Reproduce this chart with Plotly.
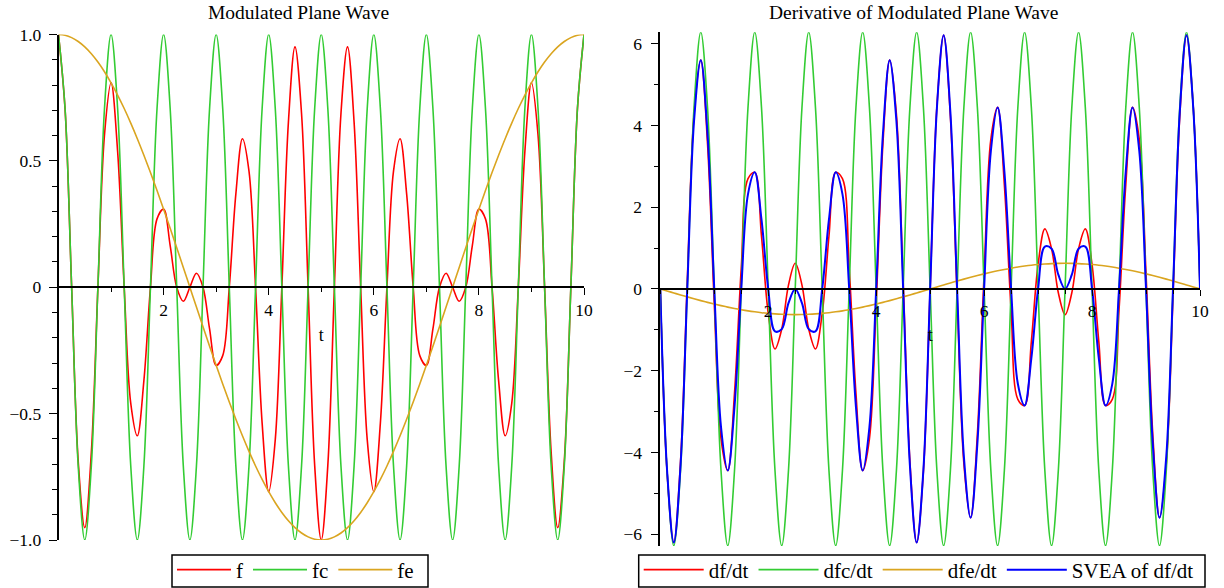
import plotly.graph_objects as go

# ---------------- data (sampled every 1/8 of t) ----------------
t = [0.0, 0.125, 0.25, 0.375, 0.5, 0.625, 0.75, 0.875,
     1.0, 1.125, 1.25, 1.375, 1.5, 1.625, 1.75, 1.875,
     2.0, 2.125, 2.25, 2.375, 2.5, 2.625, 2.75, 2.875,
     3.0, 3.125, 3.25, 3.375, 3.5, 3.625, 3.75, 3.875,
     4.0, 4.125, 4.25, 4.375, 4.5, 4.625, 4.75, 4.875,
     5.0, 5.125, 5.25, 5.375, 5.5, 5.625, 5.75, 5.875,
     6.0, 6.125, 6.25, 6.375, 6.5, 6.625, 6.75, 6.875,
     7.0, 7.125, 7.25, 7.375, 7.5, 7.625, 7.75, 7.875,
     8.0, 8.125, 8.25, 8.375, 8.5, 8.625, 8.75, 8.875,
     9.0, 9.125, 9.25, 9.375, 9.5, 9.625, 9.75, 9.875,
     10.0]

f = [1.0, 0.7049, 0.0, -0.6876, -0.9511, -0.6533, 0.0, 0.6029,
     0.8090, 0.5377, 0.0, -0.4592, -0.5878, -0.3695, 0.0, 0.2706,
     0.3090, 0.1651, 0.0, -0.0555, 0.0, 0.0555, 0.0, -0.1651,
     -0.3090, -0.2706, 0.0, 0.3695, 0.5878, 0.4592, 0.0, -0.5377,
     -0.8090, -0.6029, 0.0, 0.6533, 0.9511, 0.6876, 0.0, -0.7049,
     -1.0, -0.7049, 0.0, 0.6876, 0.9511, 0.6533, 0.0, -0.6029,
     -0.8090, -0.5377, 0.0, 0.4592, 0.5878, 0.3695, 0.0, -0.2706,
     -0.3090, -0.1651, 0.0, 0.0555, 0.0, -0.0555, 0.0, 0.1651,
     0.3090, 0.2706, 0.0, -0.3695, -0.5878, -0.4592, 0.0, 0.5377,
     0.8090, 0.6029, 0.0, -0.6533, -0.9511, -0.6876, 0.0, 0.7049,
     1.0]

fc = [1.0, 0.7071, 0.0, -0.7071, -1.0, -0.7071, 0.0, 0.7071,
      1.0, 0.7071, 0.0, -0.7071, -1.0, -0.7071, 0.0, 0.7071,
      1.0, 0.7071, 0.0, -0.7071, -1.0, -0.7071, 0.0, 0.7071,
      1.0, 0.7071, 0.0, -0.7071, -1.0, -0.7071, 0.0, 0.7071,
      1.0, 0.7071, 0.0, -0.7071, -1.0, -0.7071, 0.0, 0.7071,
      1.0, 0.7071, 0.0, -0.7071, -1.0, -0.7071, 0.0, 0.7071,
      1.0, 0.7071, 0.0, -0.7071, -1.0, -0.7071, 0.0, 0.7071,
      1.0, 0.7071, 0.0, -0.7071, -1.0, -0.7071, 0.0, 0.7071,
      1.0, 0.7071, 0.0, -0.7071, -1.0, -0.7071, 0.0, 0.7071,
      1.0, 0.7071, 0.0, -0.7071, -1.0, -0.7071, 0.0, 0.7071,
      1.0]

fe = [1.0, 0.9969, 0.9877, 0.9724, 0.9511, 0.9239, 0.8910, 0.8526,
      0.8090, 0.7604, 0.7071, 0.6494, 0.5878, 0.5225, 0.4540, 0.3827,
      0.3090, 0.2334, 0.1564, 0.0785, 0.0, -0.0785, -0.1564, -0.2334,
      -0.3090, -0.3827, -0.4540, -0.5225, -0.5878, -0.6494, -0.7071, -0.7604,
      -0.8090, -0.8526, -0.8910, -0.9239, -0.9511, -0.9724, -0.9877, -0.9969,
      -1.0, -0.9969, -0.9877, -0.9724, -0.9511, -0.9239, -0.8910, -0.8526,
      -0.8090, -0.7604, -0.7071, -0.6494, -0.5878, -0.5225, -0.4540, -0.3827,
      -0.3090, -0.2334, -0.1564, -0.0785, 0.0, 0.0785, 0.1564, 0.2334,
      0.3090, 0.3827, 0.4540, 0.5225, 0.5878, 0.6494, 0.7071, 0.7604,
      0.8090, 0.8526, 0.8910, 0.9239, 0.9511, 0.9724, 0.9877, 0.9969,
      1.0]

df_dt = [0.0, -4.4641, -6.2059, -4.2164, 0.1942, 4.2747, 5.5984, 3.5561,
         -0.3693, -3.6670, -4.4429, -2.5475, 0.5083, 2.7002, 2.8525, 1.2897,
         -0.5976, -1.4692, -0.9829, 0.0943, 0.6283, 0.0943, -0.9829, -1.4692,
         -0.5976, 1.2897, 2.8525, 2.7002, 0.5083, -2.5475, -4.4429, -3.6670,
         -0.3693, 3.5561, 5.5984, 4.2747, 0.1942, -4.2164, -6.2059, -4.4641,
         0.0, 4.4641, 6.2059, 4.2164, -0.1942, -4.2747, -5.5984, -3.5561,
         0.3693, 3.6670, 4.4429, 2.5475, -0.5083, -2.7002, -2.8525, -1.2897,
         0.5976, 1.4692, 0.9829, -0.0943, -0.6283, -0.0943, 0.9829, 1.4692,
         0.5976, -1.2897, -2.8525, -2.7002, -0.5083, 2.5475, 4.4429, 3.6670,
         0.3693, -3.5561, -5.5984, -4.2747, -0.1942, 4.2164, 6.2059, 4.4641,
         0.0]

dfc_dt = [0.0, -4.4429, -6.2832, -4.4429, 0.0, 4.4429, 6.2832, 4.4429,
          0.0, -4.4429, -6.2832, -4.4429, 0.0, 4.4429, 6.2832, 4.4429,
          0.0, -4.4429, -6.2832, -4.4429, 0.0, 4.4429, 6.2832, 4.4429,
          0.0, -4.4429, -6.2832, -4.4429, 0.0, 4.4429, 6.2832, 4.4429,
          0.0, -4.4429, -6.2832, -4.4429, 0.0, 4.4429, 6.2832, 4.4429,
          0.0, -4.4429, -6.2832, -4.4429, 0.0, 4.4429, 6.2832, 4.4429,
          0.0, -4.4429, -6.2832, -4.4429, 0.0, 4.4429, 6.2832, 4.4429,
          0.0, -4.4429, -6.2832, -4.4429, 0.0, 4.4429, 6.2832, 4.4429,
          0.0, -4.4429, -6.2832, -4.4429, 0.0, 4.4429, 6.2832, 4.4429,
          0.0, -4.4429, -6.2832, -4.4429, 0.0, 4.4429, 6.2832, 4.4429,
          0.0]

dfe_dt = [0.0, -0.0493, -0.0983, -0.1467, -0.1942, -0.2404, -0.2853, -0.3283,
          -0.3693, -0.4081, -0.4443, -0.4778, -0.5083, -0.5357, -0.5598, -0.5805,
          -0.5976, -0.6110, -0.6206, -0.6264, -0.6283, -0.6264, -0.6206, -0.6110,
          -0.5976, -0.5805, -0.5598, -0.5357, -0.5083, -0.4778, -0.4443, -0.4081,
          -0.3693, -0.3283, -0.2853, -0.2404, -0.1942, -0.1467, -0.0983, -0.0493,
          0.0, 0.0493, 0.0983, 0.1467, 0.1942, 0.2404, 0.2853, 0.3283,
          0.3693, 0.4081, 0.4443, 0.4778, 0.5083, 0.5357, 0.5598, 0.5805,
          0.5976, 0.6110, 0.6206, 0.6264, 0.6283, 0.6264, 0.6206, 0.6110,
          0.5976, 0.5805, 0.5598, 0.5357, 0.5083, 0.4778, 0.4443, 0.4081,
          0.3693, 0.3283, 0.2853, 0.2404, 0.1942, 0.1467, 0.0983, 0.0493,
          0.0]

svea = [0.0, -4.4292, -6.2059, -4.3201, 0.0, 4.1047, 5.5984, 3.7882,
        0.0, -3.3784, -4.4429, -2.8854, 0.0, 2.3214, 2.8525, 1.7002,
        0.0, -1.0372, -0.9829, -0.3486, 0.0, -0.3486, -0.9829, -1.0372,
        0.0, 1.7002, 2.8525, 2.3214, 0.0, -2.8854, -4.4429, -3.3784,
        0.0, 3.7882, 5.5984, 4.1047, 0.0, -4.3201, -6.2059, -4.4292,
        0.0, 4.4292, 6.2059, 4.3201, 0.0, -4.1047, -5.5984, -3.7882,
        0.0, 3.3784, 4.4429, 2.8854, 0.0, -2.3214, -2.8525, -1.7002,
        0.0, 1.0372, 0.9829, 0.3486, 0.0, 0.3486, 0.9829, 1.0372,
        0.0, -1.7002, -2.8525, -2.3214, 0.0, 2.8854, 4.4429, 3.3784,
        0.0, -3.7882, -5.5984, -4.1047, 0.0, 4.3201, 6.2059, 4.4292,
        0.0]

left_names = ["f", "fc", "fe"]
right_names = ["df/dt", "dfc/dt", "dfe/dt", "SVEA of df/dt"]
titles = ["Modulated Plane Wave", "Derivative of Modulated Plane Wave"]
left_yticks = [-1.0, -0.5, 0.0, 0.5, 1.0]
left_yticktext = ["\u22121.0", "\u22120.5", "0", "0.5", "1.0"]
right_yticks = [-6, -4, -2, 0, 2, 4, 6]
xticks = [2, 4, 6, 8, 10]

# ---------------- styling / layout ----------------
RED, GREEN, GOLD, BLUE = "#ff0000", "#33cc33", "#daa520", "#0000ff"
FONT = "Liberation Serif"
W, H = 1224, 588


def fx(p):
    return p / W


def fy(p):
    return 1 - p / H


L_X0, L_X1, L_YT, L_YB = 58.5, 584.0, 34.5, 540.0
R_X0, R_X1, R_YT, R_YB = 660.3, 1200.0, 32.3, 546.0
L_YR = [-1.0, 1.0]
R_YR = [-6.29, 6.28]

l_ydom = [fy(L_YB), fy(L_YT)]
r_ydom = [fy(R_YB), fy(R_YT)]


def zero_pos(dom, rng):
    return dom[0] + (0 - rng[0]) / (rng[1] - rng[0]) * (dom[1] - dom[0])


fig = go.Figure()

for name, ys, col in zip(left_names, [f, fc, fe], [RED, GREEN, GOLD]):
    fig.add_trace(go.Scatter(x=t, y=ys, name=name, mode="lines",
                             line=dict(color=col, width=1.6, shape="spline"),
                             xaxis="x", yaxis="y", legend="legend"))

for name, ys, col, wd in zip(right_names, [df_dt, dfc_dt, dfe_dt, svea],
                             [RED, GREEN, GOLD, BLUE], [1.6, 1.6, 1.6, 2.0]):
    fig.add_trace(go.Scatter(x=t, y=ys, name=name, mode="lines",
                             line=dict(color=col, width=wd, shape="spline"),
                             xaxis="x2", yaxis="y2", legend="legend2"))

tickfont = dict(family=FONT, size=17.5, color="black")
common_axis = dict(showline=True, linecolor="black", linewidth=1.5,
                   showgrid=False, zeroline=False, ticks="outside",
                   tickcolor="black", tickwidth=1.3, tickfont=tickfont)
legend_common = dict(orientation="h", xanchor="left", y=fy(570), yanchor="middle",
                     borderwidth=0, bgcolor="rgba(0,0,0,0)",
                     font=dict(family=FONT, size=21, color="black"))

# legend frames (Maple style boxes)
LEG_L = (172, 428)
LEG_R = (638.7, 1205)
LEG_Y = (555, 587)
frames = [dict(type="rect", xref="paper", yref="paper",
               x0=fx(a), x1=fx(b), y0=fy(LEG_Y[1]), y1=fy(LEG_Y[0]),
               line=dict(color="black", width=1.5), fillcolor="rgba(0,0,0,0)")
          for a, b in (LEG_L, LEG_R)]

fig.update_layout(
    width=W, height=H,
    margin=dict(l=0, r=0, t=0, b=0, autoexpand=False),
    paper_bgcolor="white", plot_bgcolor="white",
    xaxis=dict(domain=[fx(L_X0), fx(L_X1)], range=[0, 10], anchor="free",
               position=zero_pos(l_ydom, L_YR), tickmode="array",
               tickvals=xticks, ticklen=7,
               minor=dict(tickmode="linear", tick0=0, dtick=1, ticks="outside",
                          ticklen=4, tickcolor="black", tickwidth=1.2),
               title=dict(text="t", font=dict(family=FONT, size=18, color="black"),
                          standoff=8),
               **common_axis),
    yaxis=dict(domain=l_ydom, range=L_YR, anchor="x", tickmode="array",
               tickvals=left_yticks, ticktext=left_yticktext, ticklen=8,
               ticklabelstandoff=4,
               minor=dict(tickmode="linear", tick0=0, dtick=0.1, ticks="outside",
                          ticklen=5, tickcolor="black", tickwidth=1.2),
               **common_axis),
    xaxis2=dict(domain=[fx(R_X0), fx(R_X1)], range=[0, 10], anchor="free",
                position=zero_pos(r_ydom, R_YR), tickmode="array",
                tickvals=xticks, ticklen=6,
                minor=dict(tickmode="linear", tick0=0, dtick=0.5, ticks="outside",
                           ticklen=4, tickcolor="black", tickwidth=1.2),
                title=dict(text="t", font=dict(family=FONT, size=18, color="black"),
                           standoff=8),
                **common_axis),
    yaxis2=dict(domain=r_ydom, range=R_YR, anchor="x2", tickmode="array",
                tickvals=right_yticks, ticklen=8, ticklabelstandoff=5,
                minor=dict(tickmode="linear", tick0=0, dtick=1, ticks="outside",
                           ticklen=5, tickcolor="black", tickwidth=1.2),
                **common_axis),
    legend=dict(x=fx(172), itemwidth=54, **legend_common),
    legend2=dict(x=fx(638.7), itemwidth=60, **legend_common),
    shapes=frames,
    annotations=[
        dict(text=titles[0], x=fx(298), y=fy(12), xref="paper", yref="paper",
             xanchor="center", yanchor="middle", showarrow=False,
             font=dict(family=FONT, size=19.5, color="black")),
        dict(text=titles[1], x=fx(913), y=fy(12), xref="paper", yref="paper",
             xanchor="center", yanchor="middle", showarrow=False,
             font=dict(family=FONT, size=19.5, color="black")),
    ],
    showlegend=True,
)

fig.write_html("out.html", config={"displayModeBar": False},
               post_script="document.body.style.margin='0';"
                           "document.body.style.overflow='hidden';")
